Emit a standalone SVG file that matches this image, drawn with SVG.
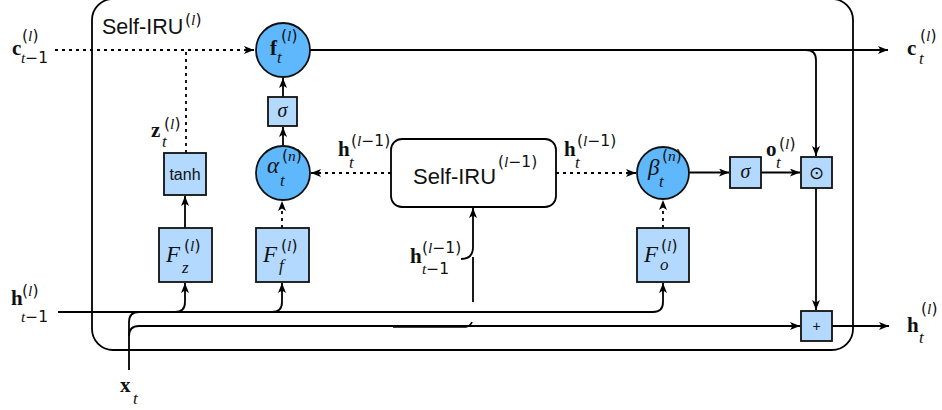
<svg xmlns="http://www.w3.org/2000/svg" width="942" height="410" viewBox="0 0 942 410">
  <style>
    .frame { fill: none; stroke: #000; stroke-width: 1.8; }
    .box { fill: #b3d9ff; stroke: #111; stroke-width: 1.8; }
    .node { fill: #5fb8fc; stroke: #111; stroke-width: 1.8; }
    .inner { fill: #fff; stroke: #000; stroke-width: 1.8; }
    .wire { fill: none; stroke: #000; stroke-width: 1.8; }
    .dot { fill: none; stroke: #000; stroke-width: 1.8; stroke-dasharray: 3 4; }
    .sans { font-family: "Liberation Sans", Arial, sans-serif; fill: #111; }
    .vec { font-family: "Liberation Serif", "Times New Roman", serif; font-weight: bold; font-size: 21px; fill: #111; }
    .var { font-family: "Liberation Serif", "Times New Roman", serif; font-style: italic; font-size: 23px; fill: #111; }
    .scr { font-family: "DejaVu Sans", sans-serif; font-size: 15.5px; fill: #111; }
    .it { font-family: "Liberation Serif", "Times New Roman", serif; font-style: italic; }
    .sub { font-family: "Liberation Serif", "Times New Roman", serif; font-style: italic; font-size: 17px; fill: #111; }
    .sig { font-family: "Liberation Serif", "Times New Roman", serif; font-style: italic; font-size: 20px; fill: #111; }
  </style>
  <defs>
    <marker id="arrow" viewBox="0 0 10 8" refX="10" refY="4" markerWidth="10" markerHeight="8" markerUnits="userSpaceOnUse" orient="auto">
      <path d="M0,0 L10,4 L0,8 L2.5,4 z" fill="#000"/>
    </marker>
  </defs>

  <!-- outer cell frame -->
  <g id="cell">
    <rect class="frame" x="92" y="-1" width="761" height="351" rx="21"/>
    <text class="sans" x="102" y="34" font-size="21.5">Self-IRU</text>
    <text class="scr" x="185" y="25">(<tspan class="it">l</tspan>)</text>
  </g>

  <!-- connectors -->
  <g id="connectors">
    <path class="dot" d="M55,50 H254" marker-end="url(#arrow)"/>
    <path class="dot" d="M186,153 V50"/>
    <path class="wire" d="M185,228 V196" marker-end="url(#arrow)"/>
    <path class="wire" d="M283,97 V78" marker-end="url(#arrow)"/>
    <path class="wire" d="M283,146 V127" marker-end="url(#arrow)"/>
    <path class="dot" d="M282,228 V201" marker-end="url(#arrow)"/>
    <path class="dot" d="M391,173 H311" marker-end="url(#arrow)"/>
    <path class="dot" d="M556,173 H636" marker-end="url(#arrow)"/>
    <path class="dot" d="M663,228 V200" marker-end="url(#arrow)"/>
    <path class="wire" d="M689,172.5 H729" marker-end="url(#arrow)"/>
    <path class="wire" d="M761,172.5 H800" marker-end="url(#arrow)"/>
    <path class="wire" d="M310,50 H888" marker-end="url(#arrow)"/>
    <path class="wire" d="M806,50 Q816,50 816,60 V156" marker-end="url(#arrow)"/>
    <path class="wire" d="M816,188 V310" marker-end="url(#arrow)"/>
    <path class="wire" d="M832,326 H889" marker-end="url(#arrow)"/>
    <path class="wire" d="M58,312 H653 Q663,312 663,302 V283" marker-end="url(#arrow)"/>
    <path class="wire" d="M175,312 Q185,312 185,302 V283" marker-end="url(#arrow)"/>
    <path class="wire" d="M272,312 Q282,312 282,302 V283" marker-end="url(#arrow)"/>
    <path class="wire" d="M129,370 V322 Q129,312 139,312"/>
    <path class="wire" d="M129,336 Q129,326 139,326 H800" marker-end="url(#arrow)"/>
    <path class="wire" d="M461,259 Q473,259 473,247 V208" marker-end="url(#arrow)"/>
    <path class="wire" d="M473,257 V302"/>
    <path class="wire" d="M393,326.8 H466 Q470,326.5 472,322"/>
  </g>

  <!-- gate nodes -->
  <g id="f-gate">
    <circle class="node" cx="283" cy="50" r="27"/>
    <text class="vec" x="270" y="55">f</text>
    <text class="scr" x="281" y="41">(<tspan class="it">l</tspan>)</text>
    <text class="sub" x="277" y="63">t</text>
  </g>
  <g id="sigma-f">
    <rect class="box" x="268" y="97" width="29" height="29"/>
    <text class="sig" x="282.5" y="117" text-anchor="middle">σ</text>
  </g>
  <g id="alpha">
    <circle class="node" cx="283" cy="173" r="27"/>
    <text class="var" x="267" y="173">α</text>
    <text class="scr" x="282" y="161">(<tspan class="it">n</tspan>)</text>
    <text class="sub" x="280" y="186">t</text>
  </g>
  <g id="tanh">
    <rect class="box" x="164" y="153" width="42" height="42"/>
    <text class="sans" x="185" y="180" font-size="16" text-anchor="middle">tanh</text>
  </g>
  <g id="F-z">
    <rect class="box" x="159" y="228" width="53" height="54"/>
    <text class="var" x="166" y="262" font-size="24">F</text>
    <text class="scr" x="184" y="251">(<tspan class="it">l</tspan>)</text>
    <text class="sub" x="182" y="273">z</text>
  </g>
  <g id="F-f">
    <rect class="box" x="256" y="228" width="53" height="54"/>
    <text class="var" x="263" y="262" font-size="24">F</text>
    <text class="scr" x="281" y="251">(<tspan class="it">l</tspan>)</text>
    <text class="sub" x="279" y="271">f</text>
  </g>
  <g id="F-o">
    <rect class="box" x="637" y="228" width="52" height="54"/>
    <text class="var" x="644" y="262" font-size="24">F</text>
    <text class="scr" x="661" y="251">(<tspan class="it">l</tspan>)</text>
    <text class="sub" x="660" y="270">o</text>
  </g>
  <g id="lower-layer">
    <rect class="inner" x="391" y="139" width="165" height="68" rx="11"/>
    <text class="sans" x="413" y="184" font-size="22">Self-IRU</text>
    <text class="scr" x="498" y="167">(<tspan class="it">l</tspan>−1)</text>
  </g>
  <g id="beta">
    <circle class="node" cx="663" cy="173" r="26"/>
    <text class="var" x="648" y="175">β</text>
    <text class="scr" x="662" y="161">(<tspan class="it">n</tspan>)</text>
    <text class="sub" x="659" y="187">t</text>
  </g>
  <g id="sigma-o">
    <rect class="box" x="730" y="157" width="31" height="31"/>
    <text class="sig" x="745.5" y="178" text-anchor="middle">σ</text>
  </g>
  <g id="hadamard">
    <rect class="box" x="801" y="157" width="31" height="31"/>
    <text x="816.5" y="179" text-anchor="middle" font-family="DejaVu Sans, sans-serif" font-size="18" fill="#111">⊙</text>
  </g>
  <g id="add">
    <rect class="box" x="801" y="311" width="31" height="30"/>
    <text class="sans" x="816.5" y="331" font-size="14" text-anchor="middle">+</text>
  </g>

  <!-- signal labels -->
  <g id="label-c-prev">
    <text class="vec" x="12" y="55">c</text>
    <text class="scr" x="22" y="41">(<tspan class="it">l</tspan>)</text>
    <text class="scr" x="21" y="63"><tspan class="it">t</tspan>−1</text>
  </g>
  <g id="label-c-next">
    <text class="vec" x="907" y="55">c</text>
    <text class="scr" x="920" y="41">(<tspan class="it">l</tspan>)</text>
    <text class="sub" x="919" y="64">t</text>
  </g>
  <g id="label-z">
    <text class="vec" x="151" y="137">z</text>
    <text class="scr" x="164" y="129">(<tspan class="it">l</tspan>)</text>
    <text class="sub" x="162" y="147">t</text>
  </g>
  <g id="label-h-left">
    <text class="vec" x="338" y="156">h</text>
    <text class="scr" x="351" y="146">(<tspan class="it">l</tspan>−1)</text>
    <text class="sub" x="349" y="168">t</text>
  </g>
  <g id="label-h-right">
    <text class="vec" x="564" y="156">h</text>
    <text class="scr" x="577" y="146">(<tspan class="it">l</tspan>−1)</text>
    <text class="sub" x="575" y="168">t</text>
  </g>
  <g id="label-h-lower">
    <text class="vec" x="410" y="263">h</text>
    <text class="scr" x="422" y="253">(<tspan class="it">l</tspan>−1)</text>
    <text class="scr" x="422" y="274"><tspan class="it">t</tspan>−1</text>
  </g>
  <g id="label-o">
    <text class="vec" x="766" y="156">o</text>
    <text class="scr" x="779" y="149">(<tspan class="it">l</tspan>)</text>
    <text class="sub" x="776" y="168">t</text>
  </g>
  <g id="label-h-prev">
    <text class="vec" x="11" y="305">h</text>
    <text class="scr" x="22" y="296">(<tspan class="it">l</tspan>)</text>
    <text class="scr" x="21" y="322"><tspan class="it">t</tspan>−1</text>
  </g>
  <g id="label-h-next">
    <text class="vec" x="907" y="332">h</text>
    <text class="scr" x="921" y="314">(<tspan class="it">l</tspan>)</text>
    <text class="sub" x="919" y="343">t</text>
  </g>
  <g id="label-x">
    <text class="vec" x="120" y="392">x</text>
    <text class="sub" x="133" y="404">t</text>
  </g>
</svg>
